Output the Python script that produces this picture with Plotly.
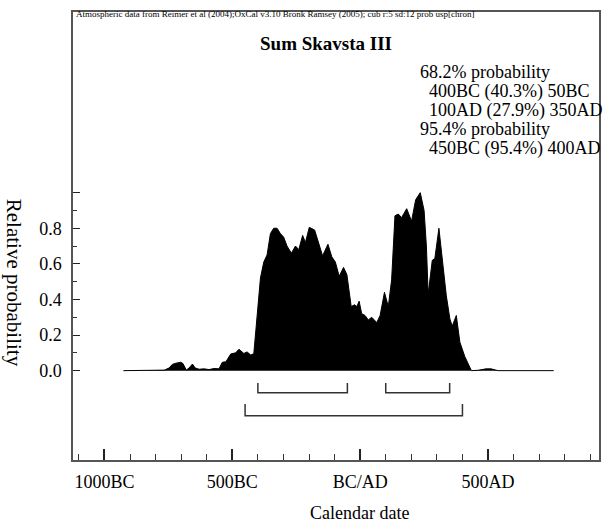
import plotly.graph_objects as go

# Summed probability distribution (calendar year, relative probability)
years = [-926, -786, -766, -747, -735, -720, -702, -693, -680, -669, -656, -645,
         -630, -610, -591, -571, -552, -539, -525, -506, -487, -474, -455, -442,
         -428, -416, -403, -390, -377, -364, -351, -338, -325, -312, -299, -286,
         -269, -253, -240, -225, -214, -199, -178, -162, -147, -126, -111, -97,
         -82, -65, -52, -35, -22, -13, -4, 6, 19, 32, 45, 65, 78, 95, 110, 123,
         136, 149, 162, 182, 201, 217, 235, 250, 259, 266, 282, 292, 308, 324,
         337, 351, 360, 376, 390, 409, 429, 435, 461, 492, 512, 527, 539, 757]
prob = [0, 0, 0.003, 0.015, 0.035, 0.042, 0.047, 0.04, 0.003, 0.015, 0.037, 0.015,
        0.008, 0.01, 0.006, 0.012, 0.01, 0.047, 0.05, 0.094, 0.1, 0.12, 0.097, 0.105,
        0.088, 0.095, 0.32, 0.52, 0.61, 0.65, 0.77, 0.80, 0.80, 0.77, 0.75, 0.70,
        0.66, 0.70, 0.68, 0.76, 0.72, 0.805, 0.79, 0.72, 0.645, 0.71, 0.64, 0.61,
        0.53, 0.58, 0.54, 0.36, 0.37, 0.36, 0.39, 0.32, 0.31, 0.285, 0.30, 0.27,
        0.31, 0.44, 0.36, 0.51, 0.87, 0.88, 0.86, 0.91, 0.84, 0.96, 1.0, 0.90, 0.70,
        0.43, 0.62, 0.63, 0.80, 0.59, 0.42, 0.29, 0.25, 0.31, 0.16, 0.08, 0.01, 0.0,
        0.002, 0.01, 0.01, 0.003, 0, 0]

# Highest probability ranges
ranges_68 = [(-400, -50), (100, 350)]
ranges_95 = [(-450, 400)]

x_tick_vals = [-1000, -500, 0, 500]
x_tick_text = ["1000BC", "500BC", "BC/AD", "500AD"]
x_minor_vals = [-1100, -900, -800, -700, -600, -400, -300, -200, -100,
                100, 200, 300, 400, 600, 700, 800, 900]
y_tick_vals = [0, 0.2, 0.4, 0.6, 0.8, 1.0]
y_tick_text = ["0.0", "0.2", "0.4", "0.6", "0.8", ""]
y_minor_vals = [0.1, 0.3, 0.5, 0.7, 0.9]

title = "Sum Skavsta III"
header = ("Atmospheric data from Reimer et al (2004);OxCal v3.10 Bronk Ramsey (2005); "
          "cub r:5 sd:12 prob usp[chron]")
prob_lines = ["68.2% probability", "  400BC (40.3%) 50BC", "  100AD (27.9%) 350AD",
              "95.4% probability", "  450BC (95.4%) 400AD"]

FONT = "Liberation Serif"
AXIS = "#555555"
W, H = 608, 526
ML, MR, MT, MB = 73, 7, 12, 66

fig = go.Figure()
fig.add_trace(go.Scatter(x=years, y=prob, mode="lines", fill="tozeroy",
                         fillcolor="black", line=dict(color="black", width=1),
                         hoverinfo="skip", showlegend=False))


def bracket(lo, hi, level, top):
    fig.add_trace(go.Scatter(x=[lo, lo, hi, hi], y=[top, level, level, top],
                             mode="lines", line=dict(color="#333333", width=1.5),
                             hoverinfo="skip", showlegend=False))


for lo, hi in ranges_68:
    bracket(lo, hi, -0.124, -0.069)
for lo, hi in ranges_95:
    bracket(lo, hi, -0.253, -0.187)

pw, ph = W - ML - MR, H - MT - MB


def px(xp):
    return (xp - ML) / pw


def py(yp):
    return (H - MB - yp) / ph


ann = []
ann.append(dict(text=header, x=px(74), y=py(14.5), xref="paper", yref="paper",
                xanchor="left", yanchor="middle", showarrow=False,
                font=dict(family=FONT, size=9, color="black")))
ann.append(dict(text="<b>" + title + "</b>", x=px(327), y=py(44), xref="paper",
                yref="paper", xanchor="center", yanchor="middle", showarrow=False,
                font=dict(family=FONT, size=19, color="black")))
line_y = [72, 91, 110, 129, 148]
for t, yy in zip(prob_lines, line_y):
    ann.append(dict(text=t.replace(" ", "&nbsp;") if t.startswith(" ") else t,
                    x=px(419), y=py(yy), xref="paper", yref="paper",
                    xanchor="left", yanchor="middle", showarrow=False,
                    font=dict(family=FONT, size=18, color="black")))
ann.append(dict(text="Relative probability", x=px(14), y=py(283), xref="paper",
                yref="paper", xanchor="center", yanchor="middle", textangle=90,
                showarrow=False, font=dict(family=FONT, size=21, color="black")))
ann.append(dict(text="Calendar date", x=px(361), y=py(513), xref="paper",
                yref="paper", xanchor="center", yanchor="middle", showarrow=False,
                font=dict(family=FONT, size=18, color="black")))

fig.update_layout(
    width=W, height=H, margin=dict(l=ML, r=MR, t=MT, b=MB, pad=0),
    plot_bgcolor="white", paper_bgcolor="white",
    font=dict(family=FONT, size=18, color="black"),
    annotations=ann, showlegend=False,
    xaxis=dict(range=[-1123, 934], showgrid=False, zeroline=False,
               tickmode="array", tickvals=x_tick_vals, ticktext=x_tick_text,
               ticks="inside", ticklen=11, tickwidth=1.5, tickcolor="#222222",
               ticklabelstandoff=5,
               minor=dict(tickmode="array", tickvals=x_minor_vals, ticks="inside",
                          ticklen=6, tickwidth=1.2, tickcolor="#333333"),
               showline=True, linecolor=AXIS, linewidth=1.5, mirror=True),
    yaxis=dict(range=[-0.502, 2.015], showgrid=False, zeroline=False,
               tickmode="array", tickvals=y_tick_vals, ticktext=y_tick_text,
               ticks="inside", ticklen=7, tickwidth=1.2, tickcolor="#222222",
               ticklabelstandoff=6,
               minor=dict(tickmode="array", tickvals=y_minor_vals, ticks="inside",
                          ticklen=4, tickwidth=1.2, tickcolor="#333333"),
               showline=True, linecolor=AXIS, linewidth=1.5, mirror=True),
)

fig.write_html("out.html")
